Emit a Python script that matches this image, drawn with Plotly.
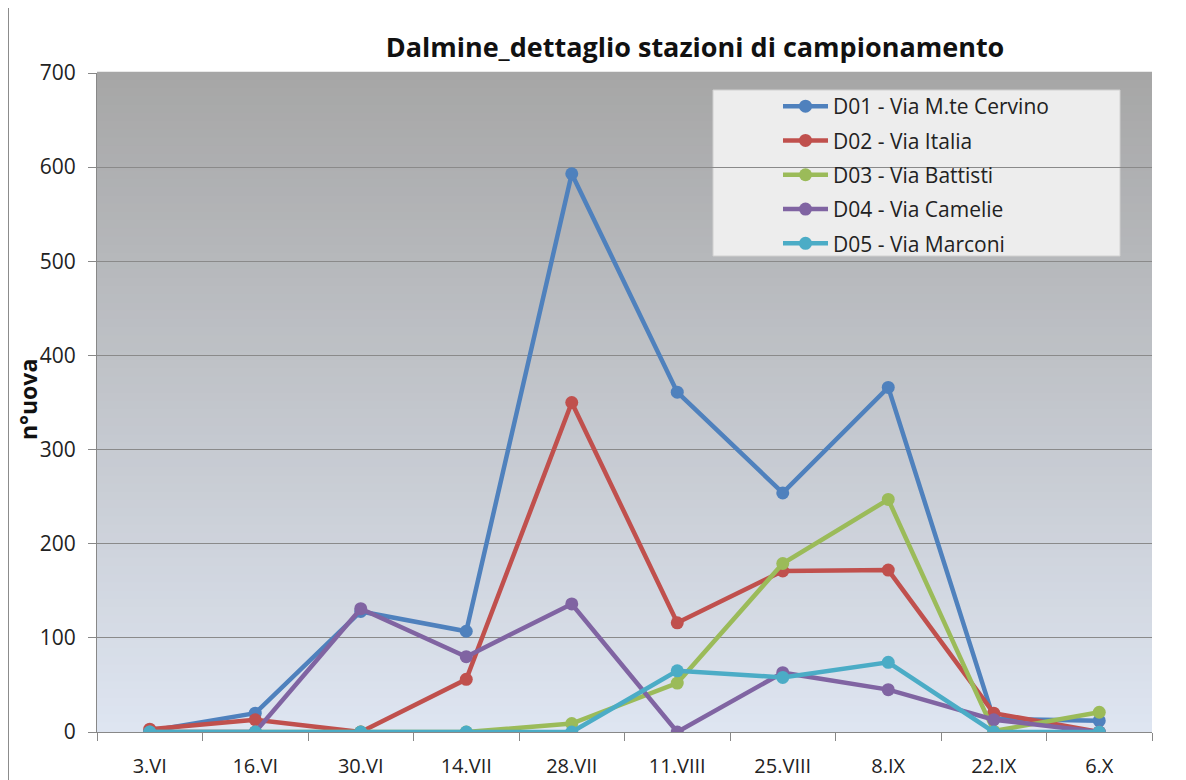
import plotly.graph_objects as go

categories = ["3.VI", "16.VI", "30.VI", "14.VII", "28.VII", "11.VIII", "25.VIII", "8.IX", "22.IX", "6.X"]
d01 = [1, 20, 128, 107, 593, 361, 254, 366, 14, 12]
d02 = [3, 13, 0, 56, 350, 116, 171, 172, 20, 0]
d03 = [0, 0, 0, 0, 9, 52, 179, 247, 1, 21]
d04 = [0, 0, 131, 80, 136, 0, 63, 45, 13, 0]
d05 = [0, 0, 0, 0, 0, 65, 58, 74, 0, 0]

names = ["D01 - Via M.te Cervino", "D02 - Via Italia", "D03 - Via Battisti",
         "D04 - Via Camelie", "D05 - Via Marconi"]
series = [d01, d02, d03, d04, d05]
colors = ["#4f81bd", "#c0504d", "#9bbb59", "#8064a2", "#4bacc6"]

fig = go.Figure()
for i, (n, s, c) in enumerate(zip(names, series, colors)):
    fig.add_trace(go.Scatter(
        x=categories, y=s, name=n, mode="lines+markers",
        line=dict(color=c, width=4.5), marker=dict(color=c, size=13),
        legendgroup=f"g{i}"))

# page body has an 8px margin; plot area target: x 97..1152, y 73..732 (page)
OFF = 8
PL, PT, PW, PH = 97, 73, 1055, 659

def px(xp):
    return (xp - PL) / PW

def py(yp):
    return (PT + PH - yp) / PH

shapes = []
N = 80
top = (166, 166, 166)
bot = (222, 229, 241)
for k in range(N):
    t = (k + 0.5) / N
    col = tuple(int(round(top[j] + (bot[j] - top[j]) * t)) for j in range(3))
    shapes.append(dict(type="rect", xref="x domain", yref="y domain",
                       x0=0, x1=1, y0=1 - (k + 1) / N, y1=1 - k / N + 0.002,
                       fillcolor=f"rgb{col}", line=dict(width=0), layer="below"))
# legend box
shapes.append(dict(type="rect", xref="paper", yref="paper",
                   x0=px(713), x1=px(1120), y0=py(256), y1=py(90),
                   fillcolor="#ededed", line=dict(color="#d0d0d0", width=1), layer="below"))
# outer chart border
shapes.append(dict(type="rect", xref="paper", yref="paper",
                   x0=px(8), x1=px(1181), y0=py(800), y1=py(2),
                   fillcolor="rgba(0,0,0,0)", line=dict(color="#8c8c8c", width=2)))

W, H = 1186, 780
fig.update_layout(
    width=W, height=H,
    margin=dict(l=PL - OFF, r=W - (PL - OFF) - PW, t=PT - OFF, b=H - (PT - OFF) - PH,
                autoexpand=False),
    paper_bgcolor="white", plot_bgcolor="rgba(0,0,0,0)",
    font=dict(family="Open Sans, Noto Sans, sans-serif", color="#222222"),
    title=dict(text="<b>Dalmine_dettaglio stazioni di campionamento</b>",
               x=(695 - OFF) / W, xanchor="center", yref="container",
               y=1 - (48 - OFF) / H, yanchor="middle",
               font=dict(size=27, color="#111111")),
    shapes=shapes,
    annotations=[dict(text="<b>n°uova</b>", xref="paper", yref="paper",
                      x=px(28), y=py(400), textangle=-90, showarrow=False,
                      xanchor="center", yanchor="middle",
                      font=dict(size=23, color="#111111"))],
    showlegend=True,
    legend=dict(x=px(778), y=py(86), xanchor="left", yanchor="top",
                bgcolor="rgba(0,0,0,0)", font=dict(size=21, color="#222222"),
                tracegroupgap=4, itemwidth=45, traceorder="grouped"),
    xaxis=dict(type="category", range=[-0.5, 9.5], showgrid=False, automargin=False,
               ticks="outside", tickson="boundaries", ticklen=8, tickcolor="#888888",
               showline=True, linecolor="#888888", linewidth=1,
               ticklabelstandoff=16,
               tickfont=dict(size=20, color="#222222")),
    yaxis=dict(range=[0, 700], dtick=100, showgrid=True, gridcolor="#8a8a8a", gridwidth=1,
               automargin=False,
               ticks="outside", ticklen=8, tickcolor="#888888",
               showline=True, linecolor="#888888", linewidth=1, zeroline=False,
               ticklabelstandoff=8,
               tickfont=dict(size=21, color="#222222")),
)

fig.write_html("out.html")
